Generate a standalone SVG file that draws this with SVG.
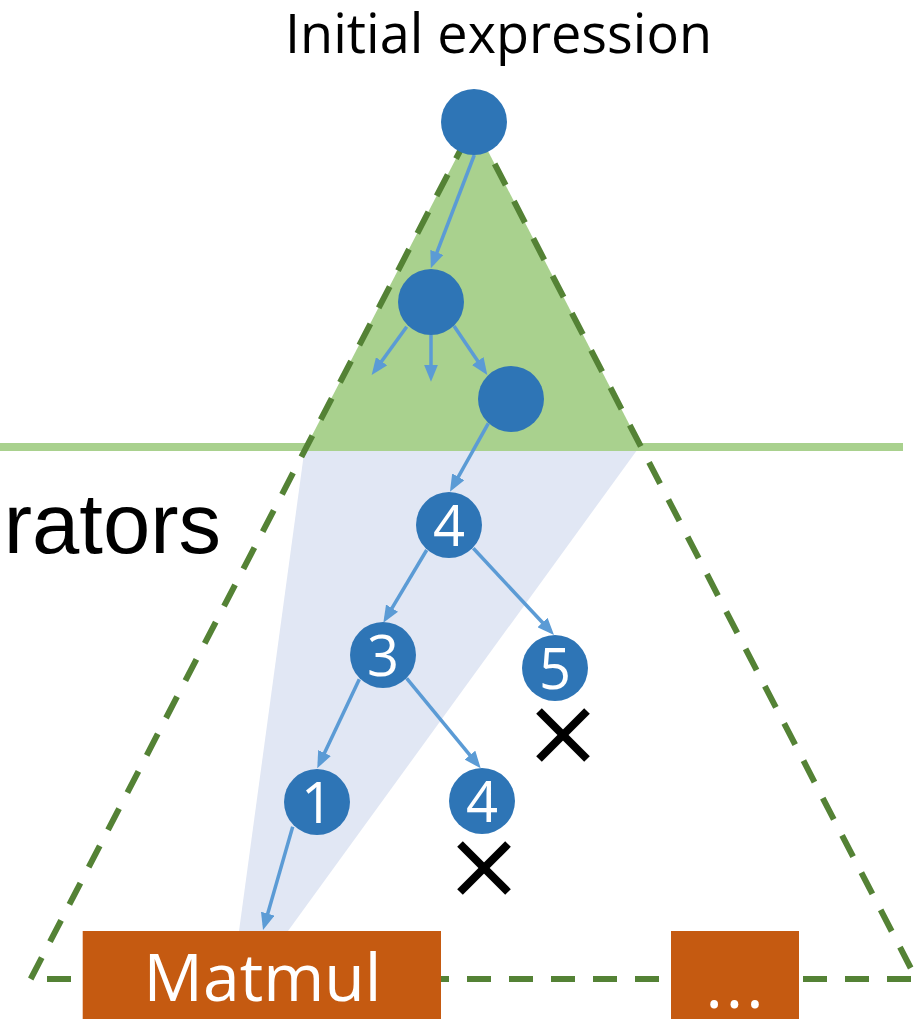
<svg xmlns="http://www.w3.org/2000/svg" width="920" height="1019" viewBox="0 0 920 1019">
  <defs>
    <marker id="head" markerUnits="userSpaceOnUse" markerWidth="17" markerHeight="14" viewBox="0 0 17 14" refX="12" refY="7" orient="auto">
      <path d="M0,0 L17,7 L0,14 z" fill="#5B9BD5"/>
    </marker>
    <style>
      .node { fill: #2E75B6; }
      .num { font-family: "Open Sans", "Noto Sans", sans-serif; font-size: 56px; fill: #FFFFFF; text-anchor: middle; }
      .edge { stroke: #5B9BD5; stroke-width: 3.5; fill: none; marker-end: url(#head); }
      .dash { stroke: #548235; stroke-width: 6; fill: none; stroke-dasharray: 24 18; }
      .op { fill: #C55A11; }
      .cross { stroke: #000000; stroke-width: 8; }
    </style>
  </defs>

  <!-- explored region below the cut line -->
  <polygon id="region-explored" points="305,446 640,446 288,931 239,931" fill="#E1E7F4"/>

  <!-- search space above the cut line -->
  <polygon id="region-top" points="474,124 306,447 641,447" fill="#A9D18E"/>
  <line id="cut-line" x1="0" y1="447" x2="903" y2="447" stroke="#A9D18E" stroke-width="8"/>

  <!-- outline of the whole search tree -->
  <g id="search-tree-outline">
    <path class="dash" d="M30.7,979 L474,124 L910.7,968"/>
    <line class="dash" x1="47" y1="979" x2="911" y2="979"/>
  </g>

  <text id="title" x="498.5" y="53" font-family="'Open Sans', 'Noto Sans', sans-serif" font-size="54" fill="#000000" text-anchor="middle">Initial expression</text>
  <text id="side-label" x="221" y="553" font-family="'Liberation Sans', Arial, sans-serif" font-size="85" fill="#000000" text-anchor="end">erators</text>

  <g id="connectors">
    <line class="edge" x1="474.3" y1="155" x2="432.6" y2="263.6"/>
    <line class="edge" x1="406.7" y1="326.7" x2="374.6" y2="371.0"/>
    <line class="edge" x1="431" y1="335" x2="431" y2="376.7"/>
    <line class="edge" x1="454" y1="326" x2="484.5" y2="370.9"/>
    <line class="edge" x1="488.3" y1="423.3" x2="452.4" y2="487.3"/>
    <line class="edge" x1="426.7" y1="550" x2="385.9" y2="618.4"/>
    <line class="edge" x1="473.3" y1="548.3" x2="550.6" y2="631.3"/>
    <line class="edge" x1="359.3" y1="679.3" x2="319.4" y2="763.8"/>
    <line class="edge" x1="406.7" y1="678.3" x2="477.5" y2="764.4"/>
    <line class="edge" x1="292.7" y1="826.7" x2="264.4" y2="925.2"/>
  </g>

  <g id="node-root"><circle class="node" cx="474" cy="122" r="33"/></g>
  <g id="node-a"><circle class="node" cx="431" cy="302" r="33"/></g>
  <g id="node-b"><circle class="node" cx="511" cy="399" r="33"/></g>

  <g id="node-4a"><circle class="node" cx="449" cy="525" r="33"/><text class="num" x="449" y="546">4</text></g>
  <g id="node-3"><circle class="node" cx="383" cy="655" r="33"/><text class="num" x="383" y="676">3</text></g>
  <g id="node-5"><circle class="node" cx="555" cy="668" r="33"/><text class="num" x="555" y="689">5</text></g>
  <g id="node-1"><circle class="node" cx="317" cy="802" r="33"/><text class="num" x="317" y="823">1</text></g>
  <g id="node-4b"><circle class="node" cx="482" cy="801" r="33"/><text class="num" x="482" y="822">4</text></g>

  <g id="prune-5">
    <line class="cross" x1="539" y1="711" x2="587" y2="759"/>
    <line class="cross" x1="587" y1="711" x2="539" y2="759"/>
  </g>
  <g id="prune-4b">
    <line class="cross" x1="460" y1="844" x2="508" y2="892"/>
    <line class="cross" x1="508" y1="844" x2="460" y2="892"/>
  </g>

  <g id="op-matmul">
    <rect class="op" x="82.7" y="931" width="358.3" height="100"/>
    <text x="262.5" y="1001" font-family="'Open Sans', 'Noto Sans', sans-serif" font-size="66" fill="#FFFFFF" text-anchor="middle">Matmul</text>
  </g>
  <g id="op-more">
    <rect class="op" x="671" y="931" width="128" height="100"/>
    <text x="736" y="1008" font-family="'Open Sans', 'Noto Sans', sans-serif" font-size="66" fill="#FFFFFF" text-anchor="middle" letter-spacing="3">...</text>
  </g>
</svg>
